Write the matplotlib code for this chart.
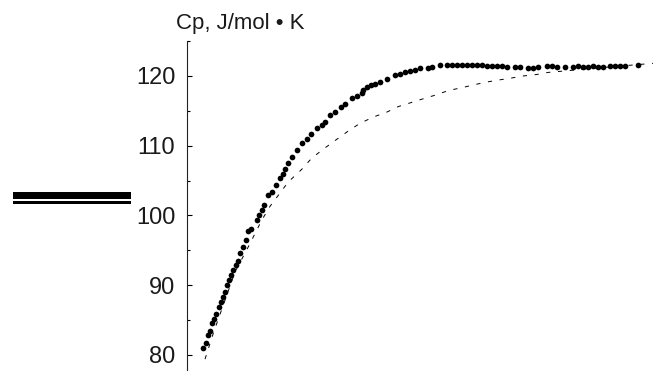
import matplotlib.pyplot as plt
from matplotlib.patches import Rectangle
from matplotlib.ticker import MultipleLocator

plt.rcParams['font.family'] = ['Liberation Sans', 'DejaVu Sans']
plt.rcParams['lines.scale_dashes'] = False

# experimental points (x in arbitrary temperature units)
T_exp = [16.3, 19, 21.3, 23, 25.3, 27, 29, 32, 34, 36.3, 38, 40.3, 42.3, 44, 46.3,
         48.7, 50.7, 53, 56.3, 58.7, 61.3, 64, 69.7, 72.3, 74.7, 77.3, 81.3, 84.7,
         89, 93, 96.3, 98, 101.3, 104.7, 109.7, 114.7, 119.7, 123.7, 129.7, 134.7,
         138, 143, 148, 153.7, 158, 164.7, 169.7, 174.7, 176.3, 179.7, 184, 188, 193,
         199.7, 208, 213, 218, 223, 228, 233, 241.3, 244.7, 253, 259.7, 264.7, 269.7,
         274.7, 279.7, 284.7, 289.7, 294.7, 299.7, 304.7, 309.7, 314.7, 319.7, 328,
         333, 341.3, 346.3, 351.3, 359.7, 364.7, 369.7, 378, 386.3, 391.3, 396.3,
         401.3, 406.3, 411.3, 416.3, 423, 428, 433, 438, 451.3]
Cp_exp = [80.95, 81.75, 82.85, 83.47, 84.53, 85.1, 85.86, 86.9, 87.6, 88.3, 89.0, 90.0,
          90.7, 91.4, 92.2, 92.9, 93.5, 94.6, 95.5, 96.5, 97.7, 98.1, 99.3, 100.0,
          100.8, 101.5, 102.9, 103.4, 104.3, 105.3, 106.0, 106.6, 107.5, 108.4, 109.4,
          110.4, 111.0, 111.7, 112.5, 113.0, 113.4, 114.4, 114.8, 115.6, 116.0, 116.8,
          117.1, 117.6, 118.0, 118.4, 118.7, 118.9, 119.1, 119.6, 120.1, 120.3, 120.5,
          120.7, 120.9, 121.1, 121.2, 121.3, 121.5, 121.5, 121.6, 121.6, 121.6, 121.6,
          121.6, 121.6, 121.5, 121.4, 121.4, 121.4, 121.4, 121.3, 121.3, 121.3, 121.2,
          121.2, 121.3, 121.4, 121.4, 121.3, 121.3, 121.3, 121.4, 121.3, 121.3, 121.4,
          121.3, 121.3, 121.4, 121.4, 121.4, 121.4, 121.6]

# calculated curve
T_calc = [18, 26.3, 48, 61.3, 74.7, 83, 101.3, 114.7, 124.7, 136.3, 149.7, 161.3, 173,
          186.3, 199.7, 211.3, 224.7, 238, 249.7, 261.3, 274.7, 286.3, 299, 311.3,
          324.7, 337, 349.7, 361.3, 416, 466]
Cp_calc = [79.4, 83.1, 91.9, 95.5, 99.3, 101.3, 104.8, 106.6, 108.2, 109.5, 110.9,
           112.1, 113.2, 114.1, 114.8, 115.6, 116.2, 116.8, 117.3, 117.9, 118.3, 118.7,
           119.1, 119.4, 119.7, 120.0, 120.2, 120.5, 121.2, 121.8]

fig = plt.figure(figsize=(6.56, 3.71), dpi=100)
ax = fig.add_axes([187 / 656, 0, 469 / 656, 330 / 371])

ax.plot(T_calc, Cp_calc, color='black', linewidth=0.7, dashes=(3, 5.5))
ax.plot(T_exp, Cp_exp, 'o', color='black', markersize=4.1, markeredgewidth=0)

ax.set_xlim(0, 469)
ax.set_ylim(77.7, 125)
ax.yaxis.set_major_locator(MultipleLocator(10))
ax.yaxis.set_minor_locator(MultipleLocator(5))
ax.tick_params(axis='y', which='major', direction='in', length=3.6, width=0.8,
               labelsize=17, pad=8.5, labelcolor='#1a1a1a')
ax.tick_params(axis='y', which='minor', direction='in', length=2.2, width=0.8)
ax.set_xticks([])
for side in ['top', 'right', 'bottom']:
    ax.spines[side].set_visible(False)
ax.spines['left'].set_linewidth(0.8)
ax.spines['left'].set_color('#222222')
ax.patch.set_visible(False)

fig.text(176 / 656, (371 - 29.3) / 371, 'Cp, J/mol \u2022 K', fontsize=16,
         ha='left', va='baseline', color='#1a1a1a')

# black double bar on the left
fig.add_artist(Rectangle((13 / 656, (371 - 199) / 371), 118 / 656, 7 / 371,
                         transform=fig.transFigure, color='black', lw=0))
fig.add_artist(Rectangle((13 / 656, (371 - 204) / 371), 118 / 656, 3 / 371,
                         transform=fig.transFigure, color='black', lw=0))

fig.savefig('out.png', dpi=100)
